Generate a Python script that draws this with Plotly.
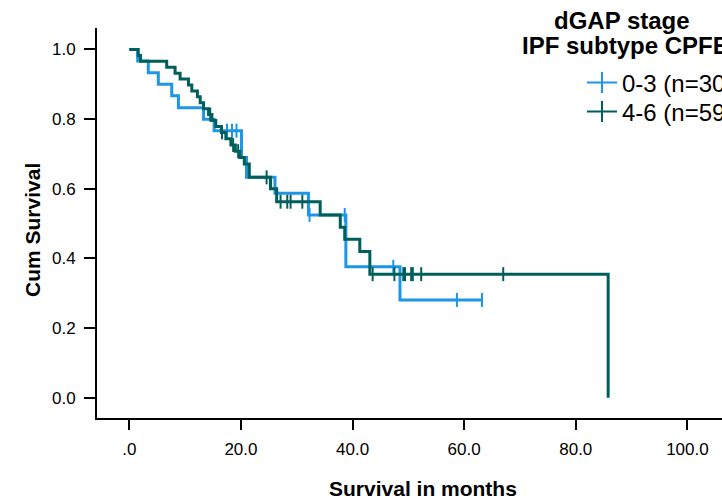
import plotly.graph_objects as go

# Kaplan-Meier step estimates per dGAP stage group (months, cumulative survival)
low_times = [0, 1.5, 3.4, 5.2, 7.6, 8.8, 13.3, 15.2, 20.1, 21.0, 26.1, 32.1, 38.8, 48.5]
low_surv = [1.0, 0.967, 0.933, 0.900, 0.867, 0.833, 0.800, 0.767, 0.690, 0.633, 0.587, 0.525, 0.376, 0.281]
low_end = 63.2
low_censored = [17.5, 18.4, 19.2, 32.3, 38.6, 47.3, 58.7, 63.2]

high_times = [0, 1.6, 2.0, 6.7, 8.2, 9.1, 10.6, 11.2, 12.2, 12.7, 13.3, 14.2, 14.8, 15.5,
              16.5, 17.3, 18.2, 19.0, 19.8, 20.6, 21.5, 25.3, 26.4, 34.2, 37.8, 38.6,
              41.3, 43.1, 85.8]
high_surv = [1.0, 0.983, 0.966, 0.949, 0.932, 0.915, 0.898, 0.881, 0.864, 0.847, 0.830,
             0.813, 0.796, 0.779, 0.762, 0.744, 0.726, 0.708, 0.690, 0.671, 0.633, 0.600,
             0.563, 0.525, 0.490, 0.455, 0.420, 0.355, 0.0]
high_end = 85.8
high_censored = [14.5, 16.6, 18.6, 19.5, 24.6, 27.1, 28.3, 28.9, 31.0, 43.6, 47.5, 49.1,
                 49.4, 50.5, 50.8, 52.3, 67.0]

group_labels = ["0-3 (n=30)", "4-6 (n=59)"]
x_ticks = [0, 20, 40, 60, 80, 100]
x_tick_text = [".0", "20.0", "40.0", "60.0", "80.0", "100.0"]
y_ticks = [0.0, 0.2, 0.4, 0.6, 0.8, 1.0]

BLUE = "#1e96e8"
TEAL = "#005f5a"
FONT = "Arial, 'Liberation Sans', sans-serif"

W, H = 722, 504
L, R, T, B = 97, 0, 28, 86
pw, ph = W - L - R, H - T - B


def px_x(p):
    return (p - L) / pw


def px_y(p):
    return (H - B - p) / ph


def step_value(times, surv, t):
    val = surv[0]
    for ti, si in zip(times, surv):
        if ti <= t:
            val = si
    return val


fig = go.Figure()

groups = [
    (low_times, low_surv, low_end, low_censored, BLUE, group_labels[0], "legend"),
    (high_times, high_surv, high_end, high_censored, TEAL, group_labels[1], "legend2"),
]
for times, surv, end, cens, color, label, leg in groups:
    xs = list(times)
    ys = list(surv)
    if xs[-1] < end:
        xs.append(end)
        ys.append(ys[-1])
    fig.add_trace(go.Scatter(
        x=xs, y=ys, mode="lines", line=dict(color=color, width=3, shape="hv"),
        showlegend=False, hoverinfo="skip"))
    fig.add_trace(go.Scatter(
        x=cens, y=[step_value(times, surv, t) for t in cens], mode="markers",
        marker=dict(symbol="line-ns", size=10, line=dict(color=color, width=2)),
        showlegend=False, hoverinfo="skip"))
    # legend entry: line with censor tick
    fig.add_trace(go.Scatter(
        x=[None], y=[None], mode="lines+markers", name=label, legend=leg,
        line=dict(color=color, width=2),
        marker=dict(symbol="line-ns", size=15, line=dict(color=color, width=2))))

legend_style = dict(xanchor="left", yanchor="middle", font=dict(size=24),
                    bgcolor="rgba(0,0,0,0)", borderwidth=0)

fig.update_layout(
    width=W, height=H,
    margin=dict(l=L, r=R, t=T, b=B, pad=0, autoexpand=False),
    paper_bgcolor="white", plot_bgcolor="white",
    font=dict(family=FONT, color="black", size=17),
    xaxis=dict(range=[-5.79, 106.2], tickvals=x_ticks, ticktext=x_tick_text,
               showline=True, linecolor="black", linewidth=2, ticks="outside",
               ticklen=10, tickwidth=2, tickcolor="black", showgrid=False,
               zeroline=False, ticklabelstandoff=5, tickfont=dict(size=17)),
    yaxis=dict(range=[-0.058, 1.0617], tickvals=y_ticks, tickformat=".1f",
               showline=True, linecolor="black", linewidth=2, ticks="outside",
               ticklen=11, tickwidth=2, tickcolor="black", showgrid=False,
               zeroline=False, ticklabelstandoff=5, tickfont=dict(size=17)),
    legend=dict(x=px_x(582), y=px_y(83), **legend_style),
    legend2=dict(x=px_x(582), y=px_y(112), **legend_style),
    annotations=[
        dict(text="<b>Cum Survival</b>", xref="paper", yref="paper",
             x=px_x(33), y=px_y(230), textangle=-90, showarrow=False,
             font=dict(size=21), xanchor="center", yanchor="middle"),
        dict(text="<b>Survival in months</b>", xref="paper", yref="paper",
             x=px_x(423), y=px_y(488), showarrow=False,
             font=dict(size=21), xanchor="center", yanchor="middle"),
        dict(text="<b>dGAP stage</b>", xref="paper", yref="paper",
             x=px_x(621.5), y=px_y(20), showarrow=False,
             font=dict(size=24), xanchor="center", yanchor="middle"),
        dict(text="<b>IPF subtype CPFE</b>", xref="paper", yref="paper",
             x=px_x(520), y=px_y(46), showarrow=False,
             font=dict(size=24), xanchor="left", yanchor="middle"),
    ],
)

fig.write_html("out.html")
